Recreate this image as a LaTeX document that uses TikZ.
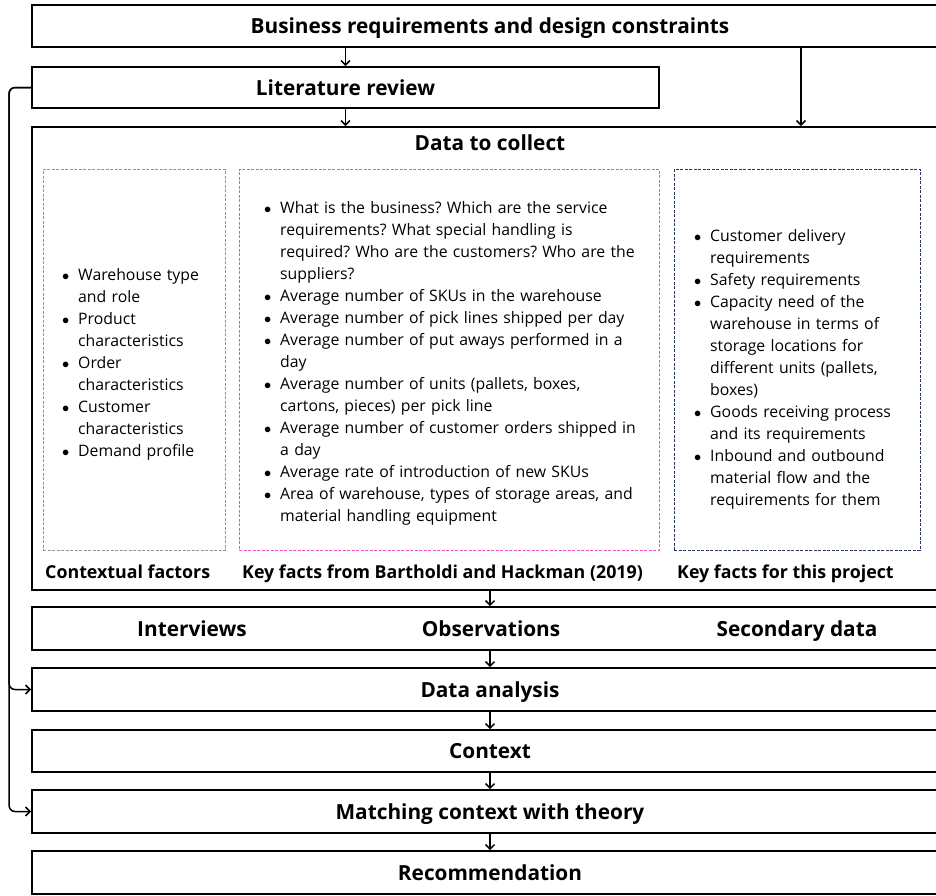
\documentclass[tikz,border=0pt]{standalone}
\usepackage{fontspec}
\setmainfont{Open Sans}
\usepackage{enumitem}
\usetikzlibrary{arrows.meta,positioning,calc}
\definecolor{gdash}{RGB}{150,150,150}
\definecolor{pdash}{RGB}{238,80,205}
\definecolor{ndash}{RGB}{40,55,100}
\setlist[itemize]{nosep,leftmargin=20pt,labelsep=9pt,label=$\bullet$}
\frenchspacing

\begin{document}
\begin{tikzpicture}[x=1pt,y=-1pt,
  font=\fontsize{15.8}{22}\selectfont,
  b/.style={draw,line width=1.8pt,minimum height=42pt,inner sep=0pt,text height=15pt,text depth=0pt,
    font=\fontsize{20.8}{24}\selectfont\bfseries},
  d/.style={draw,line width=0.8pt,dash pattern=on 3pt off 1.5pt,minimum height=381pt,inner sep=0pt},
  lst/.style={anchor=west,inner sep=0pt,align=left},
  h/.style={inner sep=0pt,text height=15pt,text depth=0pt,font=\fontsize{20.8}{24}\selectfont\bfseries},
  sub/.style={h,anchor=west,text height=12.7pt,font=\fontsize{17.8}{22}\selectfont\bfseries},
  a/.style={-{Straight Barb[length=4.5pt,width=9pt]},line width=1.5pt}]
\useasboundingbox (0,0) rectangle (936,895);
% main column
\node[b,minimum width=916pt] (req) at (490,26) {Business requirements and design constraints};
\node[b,minimum width=627pt,minimum height=41pt] (lit) at (345.5,87.5) {Literature review};
\node[b,minimum width=916pt,minimum height=463pt] (dat) at (490,358.5) {};
\node[h] (dtl) at (490,143) {Data to collect};
\node[b,minimum width=916pt,minimum height=43pt] (int) at (490,628.5) {};
\node[b,minimum width=916pt,minimum height=43pt] (ana) at (490,689.5) {Data analysis};
\node[b,minimum width=916pt] (con) at (490,751) {Context};
\node[b,minimum width=916pt,minimum height=43pt] (mat) at (490,811.5) {Matching context with theory};
\node[b,minimum width=916pt,minimum height=43pt] (rec) at (490,872.5) {Recommendation};
\node[h] (iv) at (192,628.5) {Interviews};
\node[h] (ob) at (491,628.5) {Observations};
\node[h] (sd) at (797,628.5) {Secondary data};
% data to collect
\node[d,draw=gdash,minimum width=182pt] (ctx) at (134,359.5) {};
\node[d,draw=pdash,minimum width=420pt] (bh) at (449,359.5) {};
\node[d,draw=ndash,minimum width=246pt] (prj) at (797,359.5) {};
\node[lst,text width=165pt] (ctxl) at (58,359) {\begin{itemize}
\item Warehouse type\newline and role
\item Product\newline characteristics
\item Order\newline characteristics
\item Customer\newline characteristics
\item Demand profile
\end{itemize}};
\node[lst,text width=400pt] (bhl) at (260,358) {\begin{itemize}
\item What is the business? Which are the service\newline requirements? What special handling is\newline required? Who are the customers? Who are the\newline suppliers?
\item Average number of SKUs in the warehouse
\item Average number of pick lines shipped per day
\item Average number of put aways performed in a\newline day
\item Average number of units (pallets, boxes,\newline cartons, pieces) per pick line
\item Average number of customer orders shipped in\newline a day
\item Average rate of introduction of new SKUs
\item Area of warehouse, types of storage areas, and\newline material handling equipment
\end{itemize}};
\node[lst,text width=230pt] (prjl) at (690,364) {\begin{itemize}
\item Customer delivery\newline requirements
\item Safety requirements
\item Capacity need of the\newline warehouse in terms of\newline storage locations for\newline different units (pallets,\newline boxes)
\item Goods receiving process\newline and its requirements
\item Inbound and outbound\newline material flow and the\newline requirements for them
\end{itemize}};
\node[sub] (ctxt) at (45,572) {Contextual factors};
\node[sub] (bht) at (242,572) {Key facts from Bartholdi and Hackman (2019)};
\node[sub] (prjt) at (677,572) {Key facts for this project};
% connectors
\coordinate (rx) at (801,0);
\draw[a](req.south-|lit.north)--(lit.north);\draw[a](lit.south)--(lit.south|-dat.north);
\draw[a](req.south-|rx)--(dat.north-|rx);
\draw[a](dat.south)--(int.north);\draw[a](int.south)--(ana.north);\draw[a](ana.south)--(con.north);
\draw[a](con.south)--(mat.north);\draw[a](mat.south)--(rec.north);
\draw[a,rounded corners=6pt](lit.west)--++(-22,0)|-(ana.west);
\draw[a,rounded corners=6pt](lit.west)--++(-22,0)|-(mat.west);
\end{tikzpicture}
\end{document}
